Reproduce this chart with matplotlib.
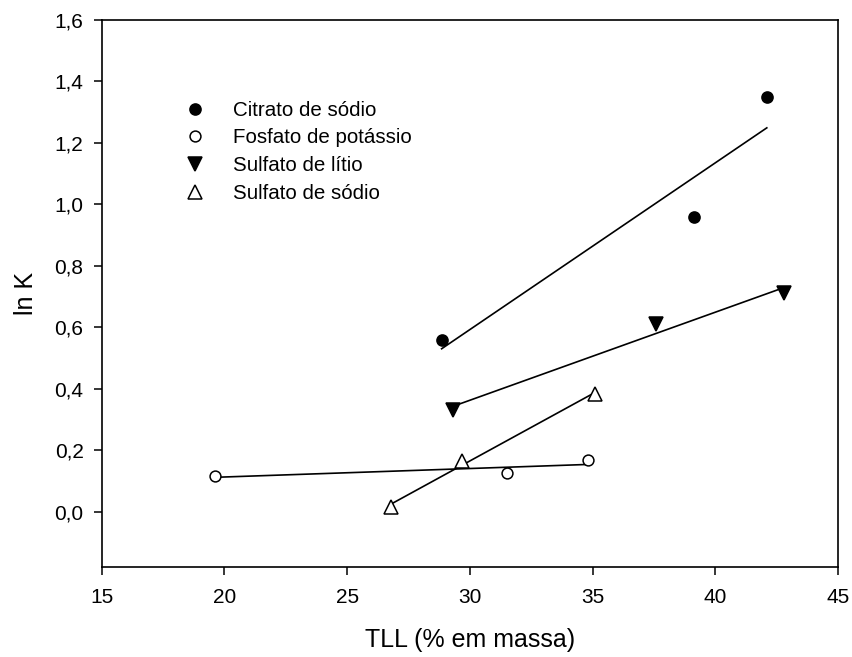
import numpy as np
import matplotlib
matplotlib.use("Agg")
import matplotlib.pyplot as plt
from matplotlib.ticker import FuncFormatter

plt.rcParams["font.family"] = ["Liberation Sans", "DejaVu Sans"]

# ====== Dados ================================================================

citrato_x  = [28.85, 39.15, 42.1]
citrato_y  = [0.559, 0.959, 1.350]
fosfato_x  = [19.6, 31.5, 34.8]
fosfato_y  = [0.116, 0.125, 0.169]
litio_x    = [29.3, 37.6, 42.8]
litio_y    = [0.331, 0.610, 0.711]
sodio_x    = [26.8, 29.7, 35.1]
sodio_y    = [0.016, 0.166, 0.383]

series = [
    ("Citrato de sódio",     citrato_x, citrato_y, "o", "black", 8),
    ("Fosfato de potássio",  fosfato_x, fosfato_y, "o", "white", 7.8),
    ("Sulfato de lítio",     litio_x,   litio_y,   "v", "black", 9.5),
    ("Sulfato de sódio",     sodio_x,   sodio_y,   "^", "white", 9.5),
]

# ====== Grafico ==============================================================

fig = plt.figure(figsize=(8.53, 6.57), dpi=100)
ax = fig.add_axes([0.1192, 0.137, 0.8632, 0.8326])

for nome, x, y, mk, fc, ms in series:
    x = np.array(x)
    y = np.array(y)
    a, b = np.polyfit(x, y, 1)
    xl = np.array([x.min(), x.max()])
    ax.plot(xl, a * xl + b, color="black", lw=1.2, zorder=2)
    ax.plot(x, y, linestyle="none", marker=mk, markersize=ms,
            markerfacecolor=fc, markeredgecolor="black", markeredgewidth=1.1,
            label=nome, zorder=3)

ax.set_xlim(15, 45)
ax.set_ylim(-0.18, 1.6)
ax.set_xticks(np.arange(15, 46, 5))
ax.set_yticks(np.arange(0, 1.61, 0.2))
ax.yaxis.set_major_formatter(FuncFormatter(lambda v, p: f"{v:.1f}".replace(".", ",")))
ax.tick_params(direction="out", length=6, width=1.1, labelsize=15, pad=7)
ax.tick_params(axis="x", pad=9)
for s in ax.spines.values():
    s.set_linewidth(1.2)

ax.set_xlabel("TLL (% em massa)", fontsize=18, labelpad=15)
ax.set_ylabel("ln K", fontsize=18, labelpad=12)

ax.legend(loc="upper left", bbox_to_anchor=(0.092, 0.871), frameon=False,
          fontsize=14.8, handletextpad=1.1, labelspacing=0.42, borderpad=0,
          handlelength=1.5)

fig.savefig("out.png", dpi=100)
